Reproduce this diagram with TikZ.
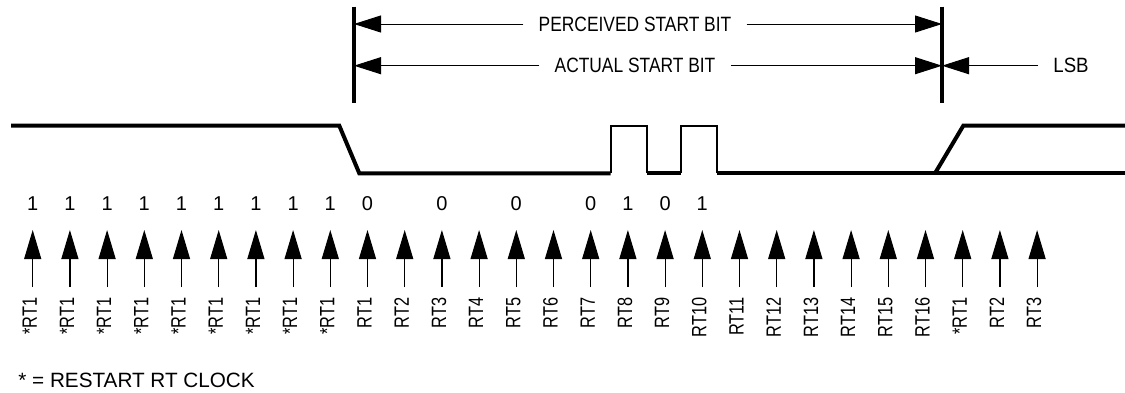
\documentclass[tikz,border=0pt]{standalone}
\usepackage{fontspec}
\setmainfont{Liberation Sans}
\usepackage{graphicx}
\usetikzlibrary{arrows.meta}
\newcommand{\narrowtxt}[2]{\scalebox{#1}[1]{#2}}

\begin{document}
\begin{tikzpicture}[x=0.5pt,y=-0.5pt,
    txt/.style={font=\fontsize{10.35}{12}\selectfont, inner sep=0pt},
    toplbl/.style={txt, inner xsep=7.5pt},
    rtlbl/.style={txt, rotate=90, anchor=east},
    bitlbl/.style={font=\fontsize{10}{12}\selectfont, inner sep=0pt},
    dimtip/.style={-{Triangle[length=13.5pt,width=8.5pt]}, line width=0.5pt},
    clk/.style={-{Triangle[length=14.5pt,width=8.5pt]}, line width=0.6pt},
    marker/.style={line width=1.7pt},
    wave/.style={line width=2pt},
    pulse/.style={line width=0.85pt}]
    \useasboundingbox (0,0) rectangle (1125,392);
    % bit boundaries
    \coordinate (mlt) at (354,6.7);
    \coordinate (mlb) at (354,103.3);
    \coordinate (mrt) at (942,6.7);
    \coordinate (mrb) at (942,103.3);
    \draw[marker] (mlt) -- (mlb);
    \draw[marker] (mrt) -- (mrb);
    % dimension arrows
    \node[toplbl] (perc) at (635,24) {\narrowtxt{0.84}{PERCEIVED START BIT}};
    \node[toplbl] (act) at (635,65.7) {\narrowtxt{0.84}{ACTUAL START BIT}};
    \node[toplbl] (lsb) at (1071,65.7) {\narrowtxt{0.9}{LSB}};
    \draw[dimtip] (perc.west) -- (perc.west -| mlt);
    \draw[dimtip] (perc.east) -- (perc.east -| mrt);
    \draw[dimtip] (act.west) -- (act.west -| mlt);
    \draw[dimtip] (act.east) -- (act.east -| mrt);
    \draw[dimtip] (lsb.west) -- (lsb.west -| mrt);
    % RxD waveform
    \draw[wave] (11,125.7) -- (339.3,125.7) -- (359.3,173.3) -- (610.7,173.3);
    \draw[wave] (646.7,173.3) -- (680.7,173.3);
    \draw[wave] (716.7,173.3) -- (1125,173.3);
    \draw[wave] (935,173.3) -- (963.3,125.7) -- (1125,125.7);
    \draw[pulse] (610.7,173.3) -- (610.7,125.7) -- (646.7,125.7) -- (646.7,173.3);
    \draw[pulse] (680.7,173.3) -- (680.7,125.7) -- (716.7,125.7) -- (716.7,173.3);
    % sample values
    \foreach \i/\d in {0/1,1/1,2/1,3/1,4/1,5/1,6/1,7/1,8/1,9/0,11/0,13/0,15/0,16/1,17/0,18/1}
        \node[bitlbl] (b\i) at ({32.7+37.2*\i},204) {\d};
    % RT clock samples
    \foreach \lab [count=\i from 0] in {*RT1,*RT1,*RT1,*RT1,*RT1,*RT1,*RT1,*RT1,*RT1,
        RT1,RT2,RT3,RT4,RT5,RT6,RT7,RT8,RT9,RT10,RT11,RT12,RT13,RT14,RT15,RT16,*RT1,RT2,RT3} {
        \node[rtlbl] (rt\i) at ({32.7+37.2*\i-3},297) {\narrowtxt{0.79}{\lab}};
        \coordinate (bt\i) at ({32.7+37.2*\i},287);
        \coordinate (tp\i) at ({32.7+37.2*\i},230);
        \draw[clk] (bt\i) -- (tp\i);
    }
    % footnote
    \node[txt, anchor=base west] (note) at (18,387.3) {* = RESTART RT CLOCK};
\end{tikzpicture}
\end{document}
